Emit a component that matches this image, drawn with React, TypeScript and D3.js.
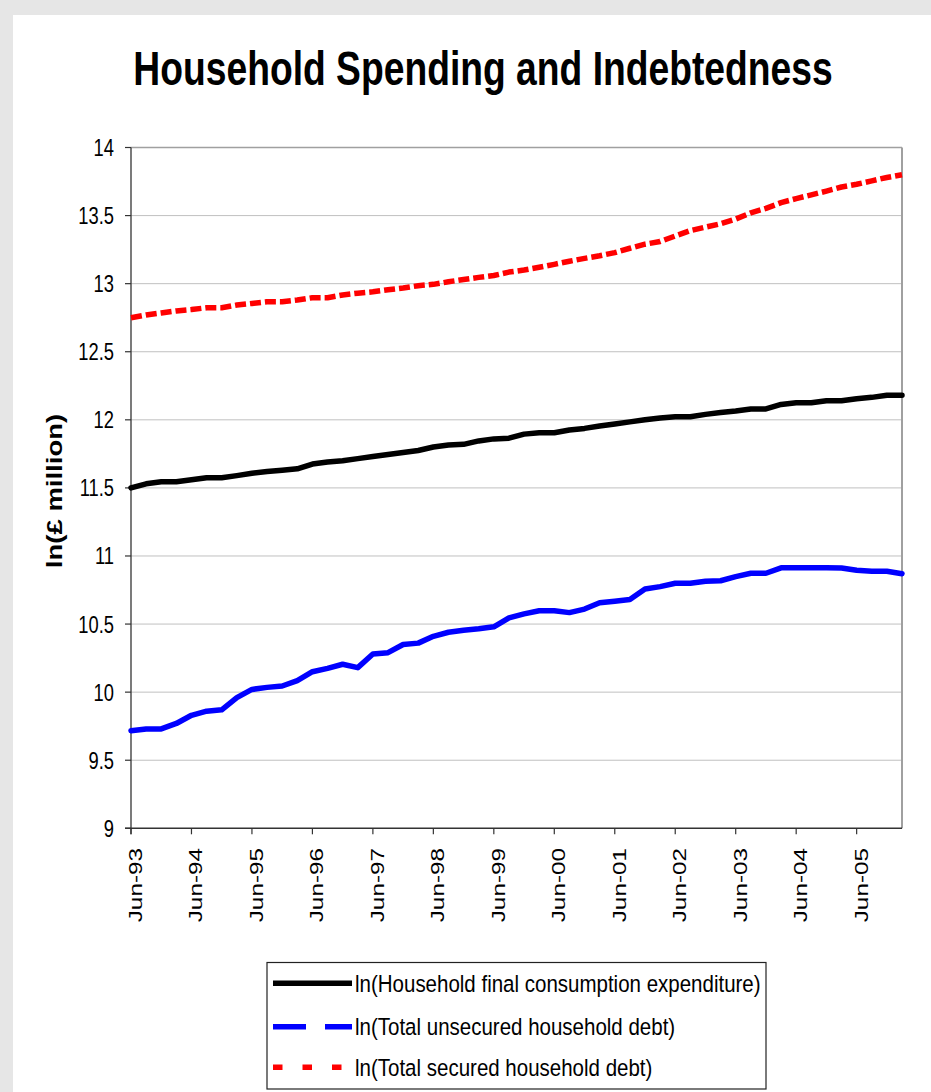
import React from "react";
import * as d3 from "d3";

const quarters: string[] = [
  "Jun-93","Sep-93","Dec-93","Mar-94","Jun-94","Sep-94","Dec-94","Mar-95",
  "Jun-95","Sep-95","Dec-95","Mar-96","Jun-96","Sep-96","Dec-96","Mar-97",
  "Jun-97","Sep-97","Dec-97","Mar-98","Jun-98","Sep-98","Dec-98","Mar-99",
  "Jun-99","Sep-99","Dec-99","Mar-00","Jun-00","Sep-00","Dec-00","Mar-01",
  "Jun-01","Sep-01","Dec-01","Mar-02","Jun-02","Sep-02","Dec-02","Mar-03",
  "Jun-03","Sep-03","Dec-03","Mar-04","Jun-04","Sep-04","Dec-04","Mar-05",
  "Jun-05","Sep-05","Dec-05","Mar-06",
];

const tickLabels: string[] = [
  "Jun-93","Jun-94","Jun-95","Jun-96","Jun-97","Jun-98","Jun-99",
  "Jun-00","Jun-01","Jun-02","Jun-03","Jun-04","Jun-05",
];

const yTicks: number[] = [9, 9.5, 10, 10.5, 11, 11.5, 12, 12.5, 13, 13.5, 14];

const consumption: number[] = [
  11.50, 11.53, 11.545, 11.545, 11.56, 11.575, 11.575, 11.59, 11.607, 11.62,
  11.63, 11.64, 11.675, 11.69, 11.70, 11.715, 11.73, 11.745, 11.76, 11.775,
  11.80, 11.815, 11.82, 11.845, 11.86, 11.865, 11.895, 11.905, 11.905, 11.925,
  11.937, 11.955, 11.97, 11.985, 12.0, 12.013, 12.023, 12.023, 12.04, 12.053,
  12.065, 12.08, 12.08, 12.113, 12.125, 12.125, 12.14, 12.14, 12.155, 12.165,
  12.18, 12.18,
];

const unsecured: number[] = [
  9.717, 9.73, 9.73, 9.77, 9.83, 9.86, 9.87, 9.96, 10.02, 10.035,
  10.045, 10.085, 10.15, 10.175, 10.205, 10.18, 10.28, 10.29, 10.35, 10.36,
  10.41, 10.44, 10.455, 10.465, 10.48, 10.545, 10.575, 10.598, 10.598, 10.584,
  10.61, 10.656, 10.668, 10.68, 10.757, 10.775, 10.80, 10.80, 10.815, 10.818,
  10.848, 10.873, 10.873, 10.913, 10.914, 10.914, 10.914, 10.912, 10.895, 10.888,
  10.888, 10.87,
];

const secured: number[] = [
  12.75, 12.77, 12.785, 12.80, 12.81, 12.823, 12.823, 12.843, 12.855, 12.867,
  12.867, 12.88, 12.897, 12.897, 12.917, 12.93, 12.94, 12.955, 12.968, 12.985,
  12.995, 13.014, 13.03, 13.046, 13.06, 13.085, 13.10, 13.12, 13.142, 13.165,
  13.186, 13.205, 13.228, 13.26, 13.29, 13.31, 13.35, 13.39, 13.415, 13.44,
  13.475, 13.52, 13.553, 13.595, 13.625, 13.652, 13.68, 13.71, 13.73, 13.755,
  13.78, 13.80,
];

const seriesNames: string[] = [
  "ln(Household final consumption expenditure)",
  "ln(Total unsecured household debt)",
  "ln(Total secured household debt)",
];

const W = 931;
const H = 1092;
const L = 131, R = 902, T = 147.5, B = 828.3;
const FONT = "'Liberation Sans', Arial, Helvetica, sans-serif";
const SX = 0.78;

export default function App() {
  const x = d3.scalePoint<string>().domain(quarters).range([L, R]);
  const y = d3.scaleLinear().domain([9, 14]).range([B, T]);

  const mk = (vals: number[]) =>
    d3.line<number>()
      .x((_, i) => x(quarters[i]) as number)
      .y((v) => y(v))(vals) as string;

  const series = [
    { vals: consumption, color: "#000000", dash: undefined as string | undefined, legDash: undefined as string | undefined },
    { vals: unsecured, color: "#0000ff", dash: undefined, legDash: "33,19" },
    { vals: secured, color: "#ff0000", dash: "11,4", legDash: "9.5,20" },
  ];

  return (
    <svg width={W} height={H} style={{ position: "absolute", left: 0, top: 0 }} fontFamily={FONT}>
      <rect x={0} y={0} width={W} height={H} fill="#e6e6e6" />
      <rect x={13} y={15} width={W - 13} height={H - 15} fill="#ffffff" />

      <text transform={`translate(483,85) scale(0.776,1)`} textAnchor="middle" fontSize={48} fontWeight="bold" fill="#000">
        Household Spending and Indebtedness
      </text>

      {/* gridlines */}
      {yTicks.filter((t) => t > 9 && t < 14).map((t) => (
        <line key={"g" + t} x1={L} x2={R} y1={y(t)} y2={y(t)} stroke="#c0c0c0" strokeWidth={1} />
      ))}
      {/* frame top & right */}
      <line x1={L} x2={R} y1={y(14)} y2={y(14)} stroke="#a0a0a0" strokeWidth={1.5} />
      <line x1={R} x2={R} y1={T} y2={B} stroke="#a0a0a0" strokeWidth={2} />

      {/* y axis */}
      <line x1={L} x2={L} y1={T} y2={B + 6} stroke="#333" strokeWidth={1.3} />
      {yTicks.map((t) => (
        <g key={"yt" + t}>
          <line x1={L - 6} x2={L} y1={y(t)} y2={y(t)} stroke="#333" strokeWidth={1.2} />
          <text transform={`translate(114,${y(t) + 8.5}) scale(${SX},1)`} textAnchor="end" fontSize={23.5} fill="#000">
            {String(t)}
          </text>
        </g>
      ))}

      {/* x axis */}
      <line x1={L - 6} x2={R} y1={B} y2={B} stroke="#333" strokeWidth={1.5} />
      {tickLabels.map((lab) => {
        const xx = x(lab) as number;
        return (
          <g key={"xt" + lab}>
            <line x1={xx} x2={xx} y1={B} y2={B + 6} stroke="#333" strokeWidth={1.2} />
            <text transform={`translate(${xx + 10.9},848) scale(${SX},1) rotate(-90)`} textAnchor="end" fontSize={24.3} fill="#000">
              {lab}
            </text>
          </g>
        );
      })}

      <text transform={`translate(62,491) scale(${SX},1) rotate(-90)`} textAnchor="middle" fontSize={27.5} fontWeight="bold" fill="#000">
        ln(£ million)
      </text>

      {/* series lines */}
      {series.map((s, i) => (
        <path key={"s" + i} d={mk(s.vals)} fill="none" stroke={s.color} strokeWidth={5.5}
          strokeDasharray={s.dash} strokeLinejoin="round" strokeLinecap={s.dash ? "butt" : "round"} />
      ))}

      {/* legend */}
      <rect x={267} y={962.5} width={499} height={126.5} fill="#fff" stroke="#222" strokeWidth={1.2} />
      {series.map((s, i) => {
        const ly = [983.3, 1026.7, 1067.3][i];
        return (
          <g key={"lg" + i}>
            <line x1={273} x2={352} y1={ly} y2={ly} stroke={s.color} strokeWidth={5.5} strokeDasharray={s.legDash} />
            <text transform={`translate(355,${ly + 8.5}) scale(0.88,1)`} fontSize={23.3} fill="#000">
              {seriesNames[i]}
            </text>
          </g>
        );
      })}
    </svg>
  );
}
